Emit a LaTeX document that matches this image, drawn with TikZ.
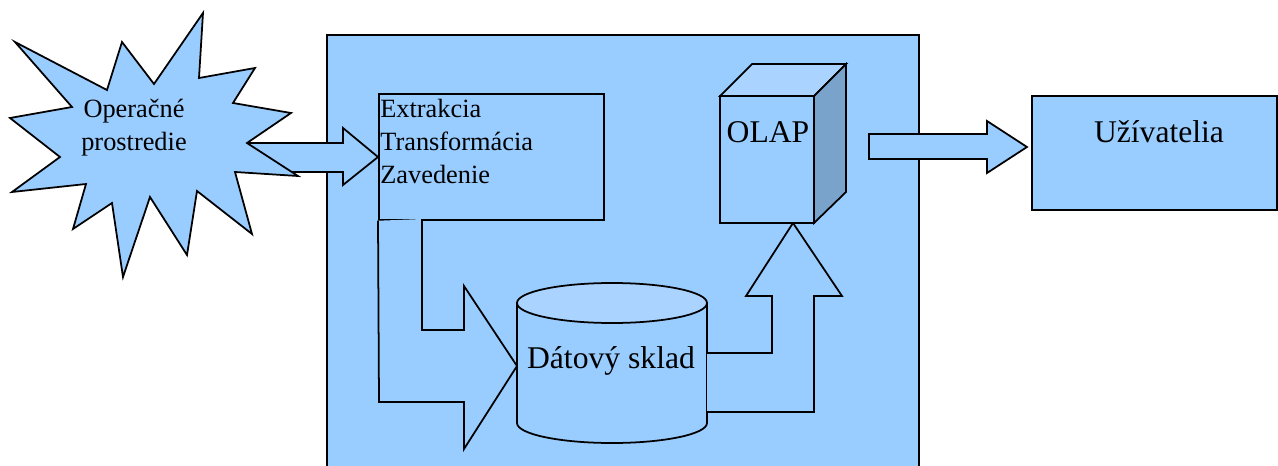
\documentclass[tikz,border=0pt]{standalone}
\usepackage{fontspec}
\setmainfont{Liberation Serif}
\definecolor{modra}{HTML}{99CCFF}
\definecolor{svetla}{HTML}{AAD4FF}
\definecolor{tmava}{HTML}{7AA3CC}
\tikzset{
  obrys/.style={draw=black, line width=1pt, line join=miter, fill=modra},
  mensi/.style={font=\fontsize{15}{18.7}\selectfont, inner sep=0pt},
  vacsi/.style={font=\fontsize{18}{21}\selectfont, inner sep=0pt},
}

\begin{document}
\begin{tikzpicture}[x=0.02cm, y=-0.02cm]
			%%%%% START %%%%%
			\useasboundingbox (0,0) rectangle (1278,466);
			
			\fill[modra] (327,35) rectangle (919,466);
			\draw[line width=1pt] (327,466) -- (327,35) -- (919,35) -- (919,466);
			
			\draw[obrys] (240,143) -- (343,143) -- (343,128) -- (378,157) -- (343,185) -- (343,172) -- (240,172) -- cycle;
			
			\draw[obrys] (203,13) -- (199,78) -- (255,68) -- (233,103) -- (291,113) -- (247,143) -- (298,176) -- (235,172) -- (252,234) -- (197,191) -- (187,255) -- (150,197) -- (123,277) -- (112,203) -- (73,229) -- (86,184) -- (12,192) -- (60,157) -- (10,118) -- (72,107) -- (15,42) -- (107,90) -- (122,42) -- (154,84) -- cycle;
			\node[mensi, align=center] (zdroj) at (134,128) {Operačné\\prostredie};
			
			\node[obrys, minimum width=4.5cm, minimum height=2.52cm, anchor=north west] (etl) at (378,93) {};
			\node[mensi, align=left, anchor=north west] (etltext) at (380,99) {Extrakcia\\Transformácia\\Zavedenie};
			
			\draw[obrys] (etl.south west) -- (379,402) -- (464,402) -- (464,449) -- (517,366) -- (464,286) -- (464,330) -- (422,330) -- (422,219);
			
			\draw[obrys] (517,303) -- (517,423) arc[start angle=180, end angle=0, x radius=95, y radius=20] -- (707,303) -- cycle;
			\draw[obrys, fill=svetla] (612,303) ellipse [x radius=95, y radius=20];
			\node[vacsi, anchor=base] (sklad) at (611,368) {Dátový sklad};
			
			\draw[obrys] (707,353) -- (772,353) -- (772,296) -- (746,296) -- (793,223) -- (842,296) -- (814,296) -- (814,412) -- (707,412);
			
			\draw[obrys] (720,96) rectangle (814,223);
			\draw[obrys, fill=svetla] (720,96) -- (752,64) -- (846,64) -- (814,96) -- cycle;
			\draw[obrys, fill=tmava] (814,96) -- (846,64) -- (846,192) -- (814,223) -- cycle;
			\node[vacsi, anchor=base] (olap) at (768,142) {OLAP};
			
			\draw[obrys] (869,134) -- (987,134) -- (987,121) -- (1027,147) -- (987,173) -- (987,159) -- (869,159) -- cycle;
			
			\node[obrys, minimum width=4.9cm, minimum height=2.28cm, anchor=north west] (uzivbox) at (1031,95) {};
			\node[vacsi, anchor=base] (uzivatelia) at (1159,142) {Užívatelia};
			%%%%% END %%%%%
\end{tikzpicture}
\end{document}
